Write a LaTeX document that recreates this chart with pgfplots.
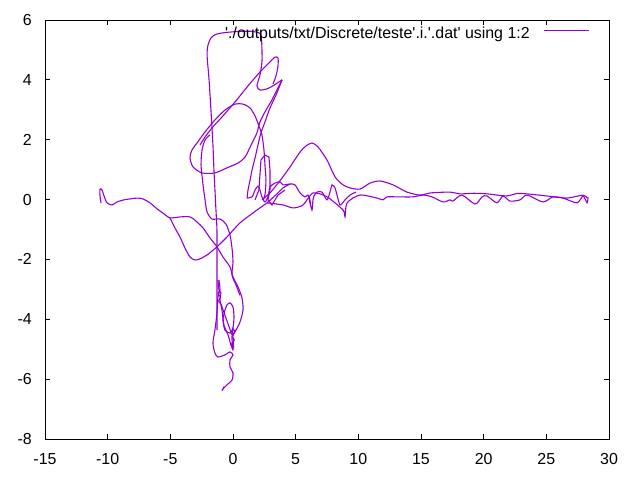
\documentclass[border=0pt]{standalone}
\usepackage{fontspec}
\setmainfont{Liberation Sans}[Ligatures=TeXOff]
\usepackage{pgfplots}
\pgfplotsset{compat=1.18}
\definecolor{gp}{HTML}{9400D3}
\begin{document}
\begin{tikzpicture}
\begin{axis}[
 scale only axis, width=564bp, height=419bp,
 xmin=-15, xmax=30, ymin=-8, ymax=6,
 xtick={-15,-10,...,30}, ytick={-8,-6,...,6},
 tick align=inside, major tick length=5bp,
 axis line style={line width=0.8bp},
 tick style={black, line width=0.8bp},
 /pgf/number format/assume math mode=true,
 ticklabel style={font=\fontsize{16}{19}\selectfont},
 xticklabel style={inner sep=0pt, anchor=north, yshift=-14bp},
 yticklabel style={inner sep=0pt, anchor=east, xshift=-13bp},
 legend plot pos=right,
 legend style={draw=none, fill=none, at={(1,1)}, anchor=north east,
   xshift=-19bp, yshift=-7bp, inner sep=0pt, font=\fontsize{16}{19}\selectfont,
   /tikz/column sep=14bp, nodes={inner sep=0pt}},
 legend image code/.code={\draw[#1] (0bp,0.3em) -- (45bp,0.3em);},
 every axis plot/.append style={gp, line width=1.1bp},
 sm/.style={smooth, tension=0.45},
]
\addplot[sm] coordinates {(-10.53,-0.11) (-10.61,0.12) (-10.61,0.35) (-10.45,0.32) (-10.29,0.12) (-10.05,-0.11) (-9.65,-0.18) (-9.26,-0.08) (-8.70,-0.01) (-8.22,0.02) (-7.66,0.05) (-7.18,0.02) (-6.62,-0.11) (-6.06,-0.31) (-5.59,-0.45) (-5.03,-0.61) (-4.23,-0.58) (-3.43,-0.58) (-2.87,-0.75) (-2.39,-0.95) (-1.84,-1.28) (-1.28,-1.58) (-0.80,-1.92) (-0.24,-2.25) (0,-2.59) (0.40,-2.92) (0.72,-3.29) (0.80,-3.69) (0.56,-4.09) (0.24,-4.36) (-0.08,-4.59)};
\addlegendentry{'./outputs/txt/Discrete/teste'.i.'.dat' using 1:2}
\addplot[sm, forget plot] coordinates {(-5.03,-0.61) (-4.63,-0.95) (-4.23,-1.25) (-3.83,-1.62) (-3.43,-1.92) (-3.03,-2.02) (-2.63,-1.98) (-2.07,-1.85) (-1.28,-1.58) (-0.48,-1.25) (0.56,-0.78) (1.91,-0.35) (2.71,-0.11) (3.51,0.19) (3.99,0.39) (4.55,0.52)};
\addplot[sm, forget plot] coordinates {(-1.28,-4.36) (-1.28,-3.35) (-1.28,-2.02) (-1.28,-1.02) (-1.36,-0.35) (-1.44,0.32) (-1.52,0.99) (-1.60,1.82) (-1.76,2.99) (-1.91,4.00) (-2.07,4.83) (-1.99,5.17) (-1.76,5.40) (-1.36,5.52) (-0.64,5.58) (0.56,5.62) (1.52,5.62) (2.15,5.55) (2.28,5.30) (2.31,5.00) (2.31,4.60) (2.15,4.16) (1.91,3.80) (2.15,3.66) (2.71,3.70) (3.19,3.80) (3.91,4.00)};
\addplot[sm, forget plot] coordinates {(3.91,4.00) (3.43,3.49) (2.95,3.06) (2.55,2.59) (2.23,2.23) (1.99,1.82) (1.76,1.39) (1.52,0.99) (1.36,0.65) (1.20,0.32) (1.12,0.05)};
\addplot[sm, forget plot] coordinates {(-2.63,1.82) (-2.23,2.09) (-1.60,2.43) (-0.88,2.76) (0.16,3.26) (1.20,3.80) (2.15,4.26) (2.95,4.60) (3.35,4.76) (3.59,4.73) (3.59,4.46) (3.43,4.13) (3.19,3.86)};
\addplot[sm, forget plot] coordinates {(3.91,4.00) (3.11,3.33) (2.55,2.93) (2.15,2.59) (1.91,2.23) (1.52,1.89) (0.96,1.42) (0.40,1.22) (-0.48,1.06) (-1.44,0.89) (-2.47,0.89) (-3.19,1.09) (-3.43,1.39) (-3.27,1.66) (-2.87,1.89) (-2.23,2.26) (-1.44,2.66) (-0.64,2.99) (0.16,3.19) (0.80,3.19) (1.36,3.06) (1.76,2.79) (2.07,2.46) (2.31,2.16) (2.47,1.66) (2.55,1.16) (2.63,0.65) (2.55,0.15) (2.39,-0.01)};
\addplot[sm, forget plot] coordinates {(-1.84,2.16) (-2.23,1.99) (-2.47,1.66) (-2.55,1.16) (-2.39,0.49) (-2.23,-0.01) (-2.07,-0.41) (-1.68,-0.65) (-1.04,-0.65) (-0.56,-0.82) (-0.24,-1.18) (-0.08,-1.62) (0,-2.08) (-0.08,-2.52) (0.24,-2.85) (0.56,-3.20)};
\addplot[sm, forget plot] coordinates {(-1.12,-2.69) (-1.04,-3.02) (-1.20,-3.25) (-1.28,-3.79) (-1.44,-4.36) (-1.60,-4.79) (-1.44,-5.13) (-1.20,-5.26) (-0.64,-5.19) (-0.24,-5.09) (0,-5.19) (-0.24,-5.36) (-0.24,-5.59) (0,-5.79) (-0.08,-6.03) (-0.48,-6.19) (-0.80,-6.33) (-0.88,-6.39) (-0.72,-6.25)};
\addplot[sm, forget plot] coordinates {(-0.48,-3.52) (-0.24,-3.45) (0,-3.59) (0.08,-3.92) (0,-4.29) (-0.24,-4.46) (-0.64,-4.36) (-0.80,-4.02) (-0.64,-3.69) (-0.48,-3.52)};
\addplot[sm, forget plot] coordinates {(-1.20,-2.69) (-1.12,-3.02) (-0.96,-3.12) (-1.04,-3.35) (-0.88,-3.69) (-0.72,-4.19) (-0.40,-4.52) (-0.16,-4.86) (0,-5.02) (-0.08,-4.59) (0.24,-4.36)};
\addplot[forget plot] coordinates {(-1.04,-3.00) (-1.20,-3.15) (-1.00,-3.25) (-1.15,-3.40) (-0.95,-3.50) (-0.10,-4.50) (0.10,-4.70) (-0.15,-4.85) (0.05,-4.95) (-0.05,-4.30) (0.15,-4.40)};
\addplot[sm, forget plot] coordinates {(2.71,-0.11) (3.99,-0.18) (4.79,-0.28) (5.59,-0.18) (6.38,0.22) (7.50,0.09) (8.78,-0.35) (8.94,-0.58) (9.10,-0.11) (10.13,0.15) (11.49,0.05) (11.97,-0.01) (12.29,0.09) (13.09,0.09) (14.36,0.09) (15.16,0.15) (15.88,0.09) (16.76,-0.08) (17.31,-0.01) (17.55,-0.05) (18.27,0.15) (19.31,-0.15) (19.87,0.09) (20.27,0.12) (21.06,-0.11) (21.54,0.12) (22.10,-0.05) (22.90,-0.01) (23.46,0.15) (24.73,-0.08) (25.53,0.09) (26.33,0.05) (27.45,-0.11) (27.93,0.12) (28.25,-0.11) (28.33,0.09)};
\addplot[sm, forget plot] coordinates {(2.31,-0.01) (2.95,0.22) (3.35,0.42) (3.91,0.72) (4.55,1.09) (5.35,1.59) (5.82,1.79) (6.30,1.89) (6.78,1.76) (7.50,1.32) (8.14,0.76) (8.78,0.49) (9.34,0.39) (10.13,0.35) (10.93,0.55) (11.73,0.62) (12.77,0.49) (13.88,0.25) (14.92,0.15) (15.72,0.22) (17.31,0.25) (18.11,0.19) (19.2,0.21) (20.27,0.19) (21.86,0.12) (22.6,0.2) (23.46,0.19) (25.05,0.12) (26.65,0.05) (27.93,0.15) (28.25,0.05)};
\addplot[sm, forget plot] coordinates {(1.12,0.05) (1.52,0.09) (1.76,0.32) (1.99,0.45) (2.15,0.32) (2.31,0.09) (2.55,-0.08) (2.79,0.09) (2.95,0.42) (3.35,0.55) (3.75,0.59) (3.99,0.49) (4.55,0.52) (4.95,0.49) (5.35,0.22) (5.74,0.09) (5.98,0.15) (6.14,-0.01) (6.22,-0.25) (6.06,0.05) (6.30,-0.35) (6.38,-0.01) (6.46,0.12) (6.70,0.25) (7.10,0.25) (7.50,-0.01) (7.74,0.25) (7.90,0.49) (8.14,0.39) (8.30,0.15) (8.54,-0.18) (8.94,-0.01) (9.34,0.15) (9.81,0.25)};
\addplot[forget plot] coordinates {(1.76,-0.01) (2.07,0.32) (2.23,1.32) (2.55,1.49) (2.87,1.42) (2.95,0.99) (2.95,0.32) (2.79,-0.01) (3.11,-0.18) (3.59,0.15) (4.15,0.32)};
\end{axis}
\pgfresetboundingbox
\path[use as bounding box] ([xshift=-45bp,yshift=-41bp]current axis.south west) rectangle ([xshift=31bp,yshift=20bp]current axis.north east);
\end{tikzpicture}
\end{document}
